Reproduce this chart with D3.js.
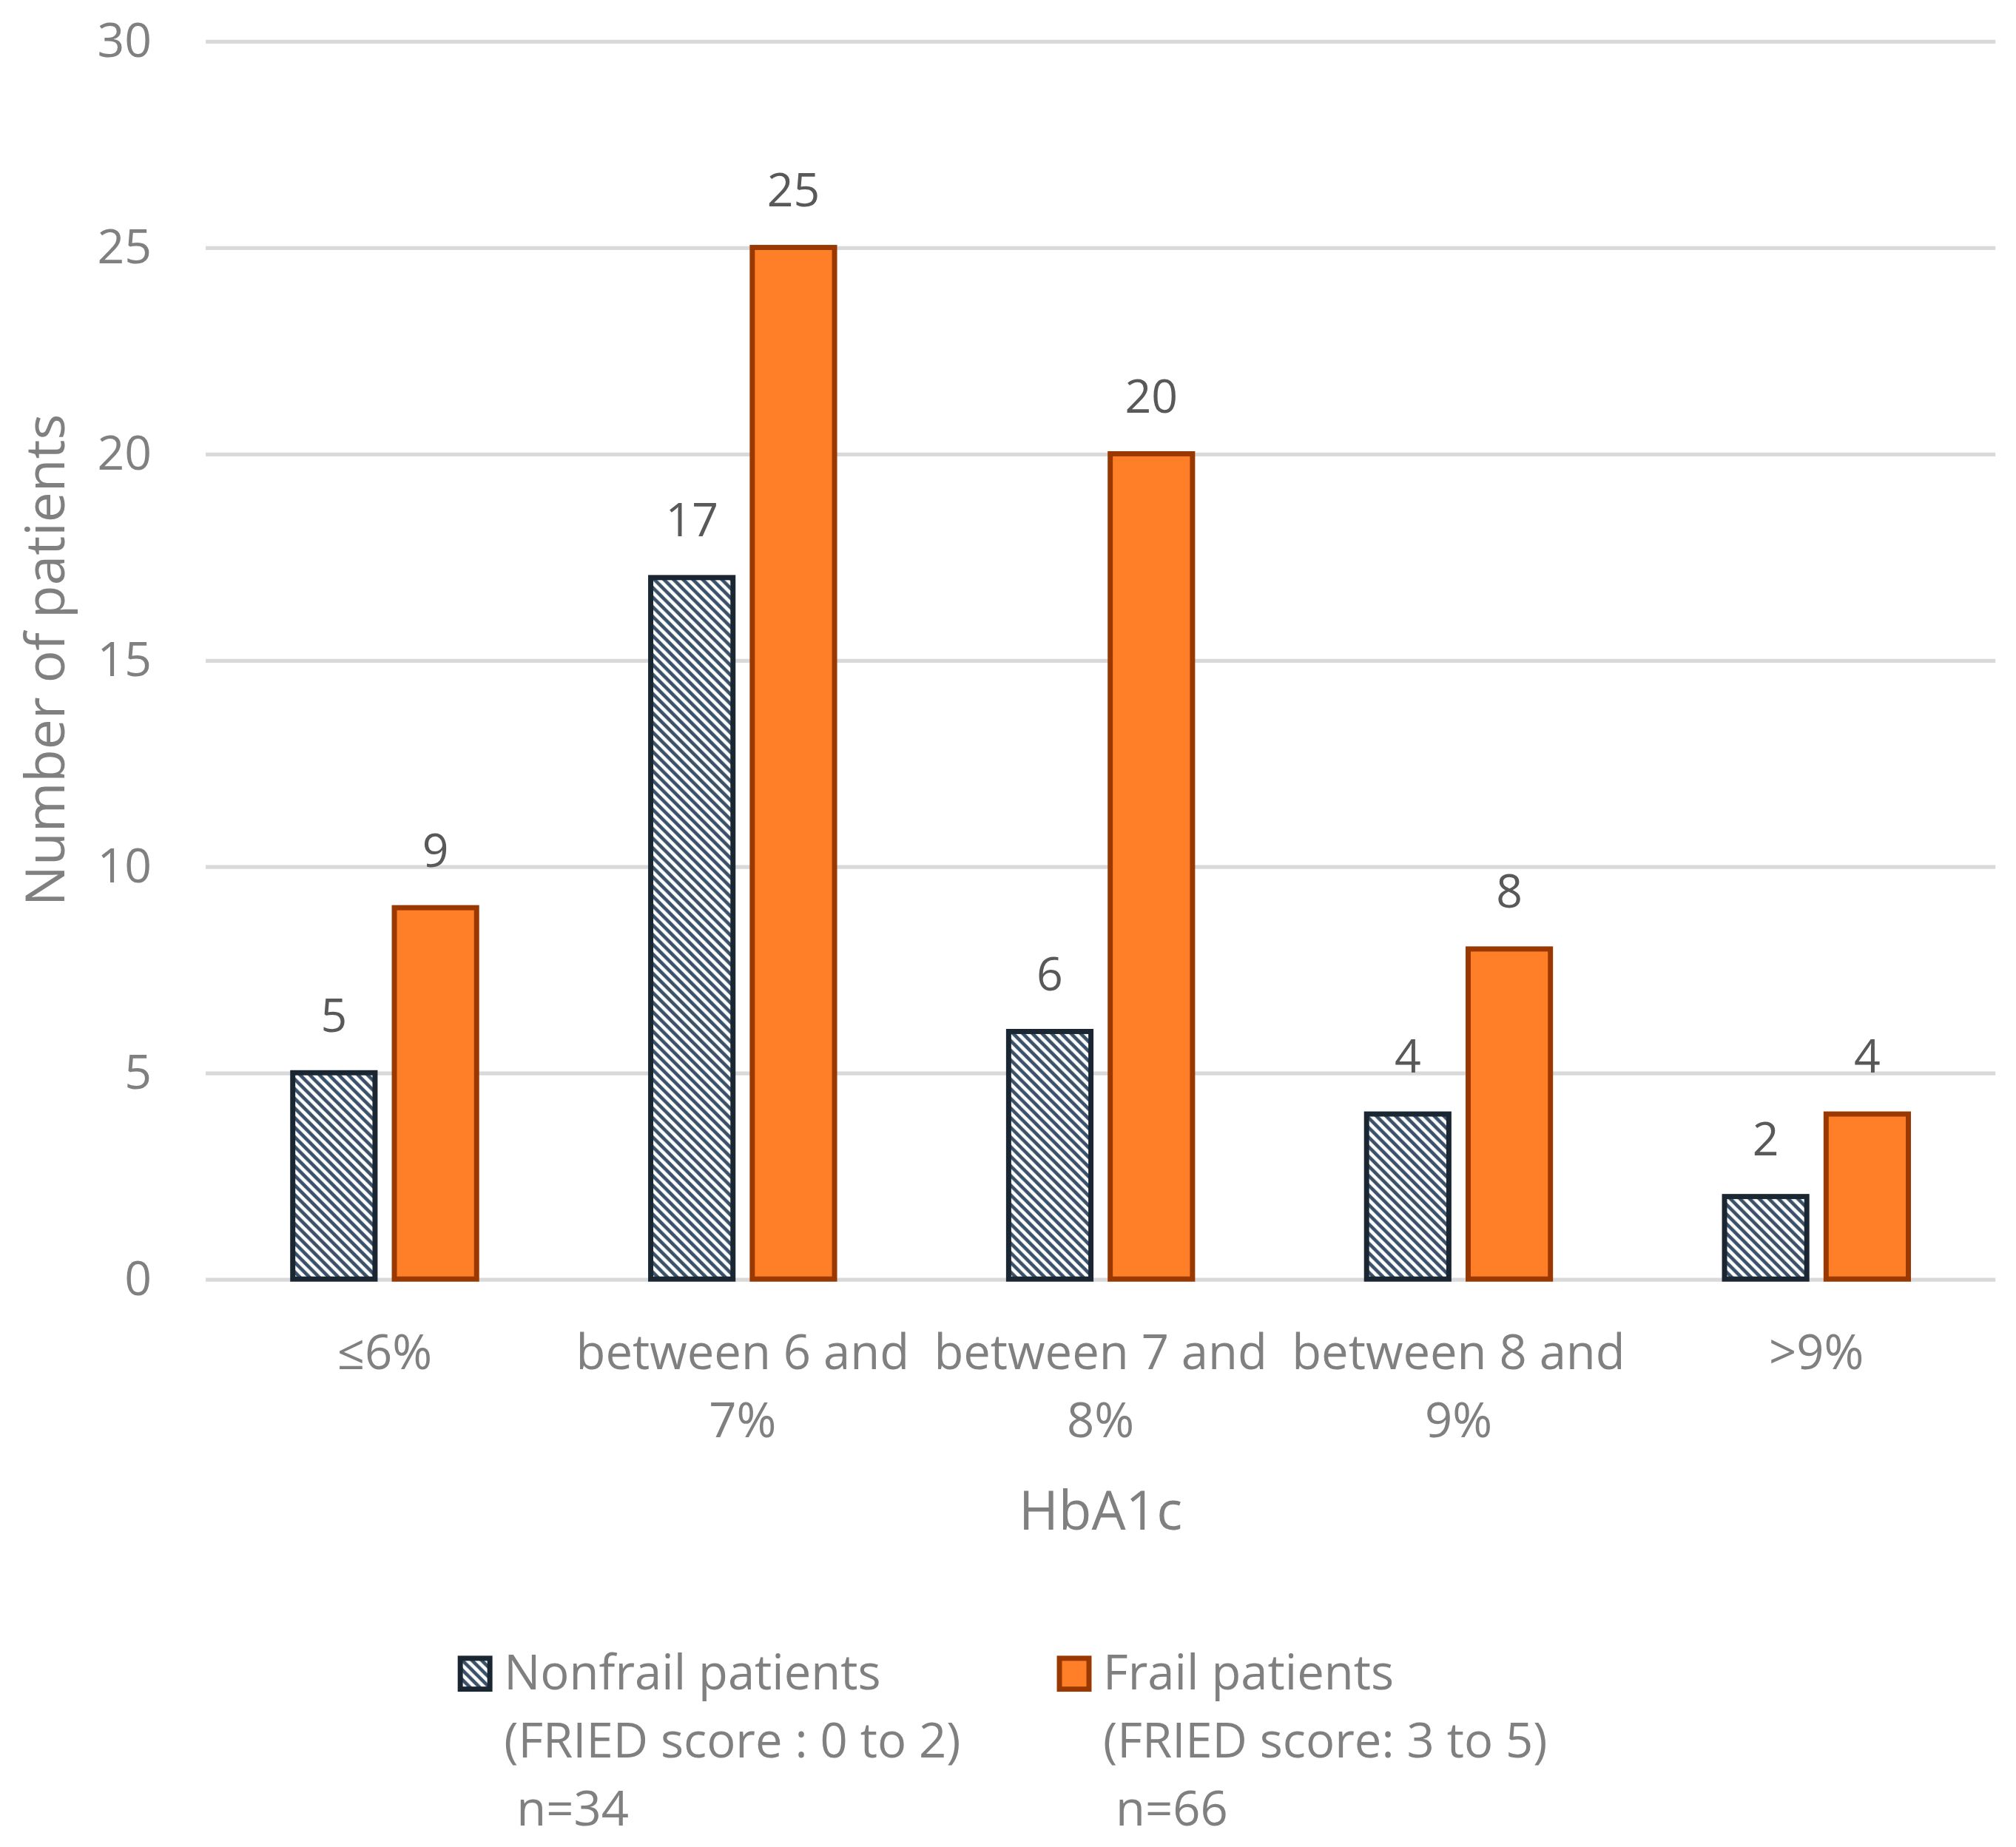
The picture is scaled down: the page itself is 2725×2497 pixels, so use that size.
<!DOCTYPE html>
<html>
<head>
<meta charset="utf-8">
<script src="https://cdn.jsdelivr.net/npm/d3@7"></script>
<style>
  body { margin: 0; background: #fff; }
  text { font-family: "Open Sans", "Noto Sans", sans-serif; }
</style>
</head>
<body>
<svg class="chart"></svg>
<script>
// data
let categories = ["≤6%", "between 6 and 7%", "between 7 and 8%", "between 8 and 9%", ">9%"]
let series = ["Nonfrail", "Frail"]
let nonfrail = [5, 17, 6, 4, 2]
let frail = [9, 25, 20, 8, 4]
let yTicks = [0, 5, 10, 15, 20, 25, 30]
let legendLines = [
  ["Nonfrail patients", "(FRIED score : 0 to 2)", " n=34"],
  ["Frail patients", "(FRIED score: 3 to 5)", " n=66"]
]

// drawing in a 1568-wide coordinate space, scaled up to the window
let W = 1568, H = 2497 * 1568 / 2725

let margin = { top: 32, right: 16, bottom: H - 995, left: 160 }
let width = W - margin.left - margin.right
let height = H - margin.top - margin.bottom

let svg = d3.select(".chart")
    .attr("width", 2725)
    .attr("height", 2497)
    .attr("viewBox", "0 0 " + W + " " + H)

// downward diagonal hatch for the nonfrail bars
let p = 7.5
let defs = svg.append("defs")
let pat = defs.append("pattern")
    .attr("id", "hatch")
    .attr("patternUnits", "userSpaceOnUse")
    .attr("width", p)
    .attr("height", p)
pat.append("rect").attr("width", p).attr("height", p).attr("fill", "#fff")
pat.append("path")
    .attr("d", "M" + (-p / 2) + "," + (p / 2) + " L" + (p / 2) + "," + (p * 1.5) +
               " M0,0 L" + p + "," + p +
               " M" + (p / 2) + "," + (-p / 2) + " L" + (p * 1.5) + "," + (p / 2))
    .attr("stroke", "#3a5169")
    .attr("stroke-width", p * 0.36)

let g = svg.append("g")
    .attr("transform", "translate(" + margin.left + "," + margin.top + ")")

let x0 = d3.scaleBand().domain(categories).range([0, width])
let x1 = d3.scaleBand().domain(series).range([-71.5, 71.5]).paddingInner(0.19)
let y = d3.scaleLinear().domain([0, 30]).range([height, 0])

// gridlines
let yAxis = g.append("g")
    .call(d3.axisLeft(y).tickValues(yTicks).tickSize(-width).tickPadding(42))
yAxis.select(".domain").remove()
yAxis.selectAll(".tick line").attr("stroke", "#d9d9d9").attr("stroke-width", 3)
yAxis.selectAll(".tick text")
    .attr("fill", "#808080")
    .style("font-size", "37px")

let rows = categories.map(function(c, i) {
  return { cat: c, values: [{ s: "Nonfrail", v: nonfrail[i] }, { s: "Frail", v: frail[i] }] }
})

let groups = g.selectAll(".grp")
    .data(rows)
  .enter().append("g")
    .attr("transform", function(d) { return "translate(" + (x0(d.cat) + x0.bandwidth() / 2) + ",0)" })

groups.selectAll("rect")
    .data(function(d) { return d.values })
  .enter().append("rect")
    .attr("x", function(d) { return x1(d.s) })
    .attr("y", function(d) { return y(d.v) })
    .attr("width", x1.bandwidth())
    .attr("height", function(d) { return height - y(d.v) })
    .attr("fill", function(d) { return d.s == "Frail" ? "#fe7f27" : "url(#hatch)" })
    .attr("stroke", function(d) { return d.s == "Frail" ? "#993800" : "#1a2733" })
    .attr("stroke-width", 4)

groups.selectAll(".lbl")
    .data(function(d) { return d.values })
  .enter().append("text")
    .attr("x", function(d) { return x1(d.s) + x1.bandwidth() / 2 })
    .attr("y", function(d) { return y(d.v) - 32 })
    .attr("text-anchor", "middle")
    .attr("fill", "#595959")
    .style("font-size", "36px")
    .text(function(d) { return d.v })

// category labels, wrapped to the band
let xAxis = g.append("g")
    .attr("transform", "translate(0," + height + ")")
    .call(d3.axisBottom(x0).tickSize(0).tickPadding(0))
xAxis.select(".domain").remove()
xAxis.selectAll(".tick text")
    .attr("fill", "#808080")
    .attr("dy", null)
    .style("font-size", "37.5px")
    .call(wrap, x0.bandwidth())

function wrap(texts, w) {
  texts.each(function() {
    let text = d3.select(this)
    let words = text.text().split(" ")
    text.text(null)
    let lines = [], line = []
    let probe = text.append("tspan")
    words.forEach(function(word) {
      line.push(word)
      probe.text(line.join(" "))
      if (probe.node().getComputedTextLength() > w && line.length > 1) {
        line.pop()
        lines.push(line.join(" "))
        line = [word]
      }
    })
    lines.push(line.join(" "))
    probe.remove()
    lines.forEach(function(l, i) {
      text.append("tspan")
          .attr("x", 0)
          .attr("y", 70 + i * 53)
          .text(l)
    })
  })
}

// axis titles
svg.append("text")
    .attr("x", margin.left + width / 2)
    .attr("y", 1190)
    .attr("text-anchor", "middle")
    .attr("fill", "#808080")
    .style("font-size", "42px")
    .text("HbA1c")

svg.append("text")
    .attr("transform", "translate(50," + (margin.top + height / 2) + ") rotate(-90)")
    .attr("text-anchor", "middle")
    .attr("fill", "#808080")
    .style("font-size", "42px")
    .text("Number of patients")

// legend
let legendX = [356, 822]
let legend = svg.selectAll(".legend")
    .data(series)
  .enter().append("g")
    .attr("transform", function(d, i) { return "translate(" + legendX[i] + ",1288)" })

legend.append("rect")
    .attr("x", 2).attr("y", 2)
    .attr("width", 23).attr("height", 24)
    .attr("fill", function(d) { return d == "Frail" ? "#fe7f27" : "url(#hatch)" })
    .attr("stroke", function(d) { return d == "Frail" ? "#993800" : "#1a2733" })
    .attr("stroke-width", 4)

legend.each(function(d, i) {
  let t = d3.select(this).append("text")
      .attr("fill", "#808080")
      .style("font-size", "37.5px")
      .attr("xml:space", "preserve")
  legendLines[i].forEach(function(l, j) {
    t.append("tspan")
        .attr("x", 36)
        .attr("y", 26 + j * 53)
        .text(l)
  })
})
</script>
</body>
</html>
